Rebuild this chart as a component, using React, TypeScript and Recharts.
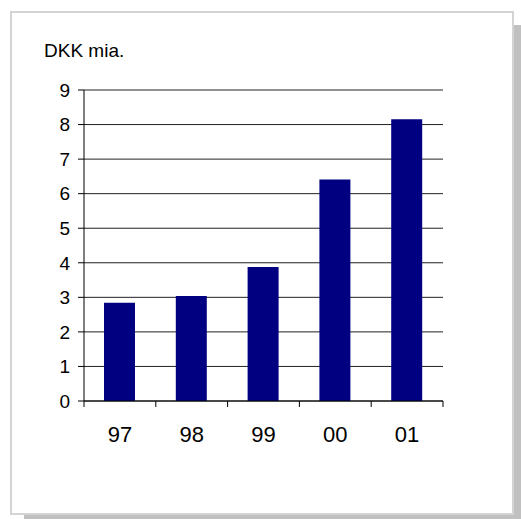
import React from 'react';
import { BarChart, Bar, XAxis, YAxis, CartesianGrid } from 'recharts';

const years = ['97', '98', '99', '00', '01'];
const revenue = [2.84, 3.04, 3.88, 6.41, 8.15];
const yTicks = [0, 1, 2, 3, 4, 5, 6, 7, 8, 9];

const data = years.map((year, i) => ({ year, value: revenue[i] }));

const FONT = '"Liberation Sans", Arial, sans-serif';
const CHART_W = 521;
const CHART_H = 519;
const MARGIN = { top: 90, right: 78, bottom: 78, left: 0 };
const Y_AXIS_W = 84;
const PLOT_W = CHART_W - MARGIN.left - MARGIN.right - Y_AXIS_W;
const TICK_LEN = 6;
const TICK_GAP = 19;

// Excel-style category axis: tick marks sit between the categories
const CategoryTick = (props: any) => {
  const { x, y, payload, index } = props;
  const half = PLOT_W / years.length / 2;
  const axisY = y - TICK_LEN - TICK_GAP;
  return (
    <g>
      <line x1={x - half} x2={x - half} y1={axisY} y2={axisY + TICK_LEN} stroke="#000" />
      {index === years.length - 1 && (
        <line x1={x + half} x2={x + half} y1={axisY} y2={axisY + TICK_LEN} stroke="#000" />
      )}
      <text x={x} y={y} dy="0.71em" textAnchor="middle" fill="#000" fontSize={22} fontFamily={FONT}>
        {payload.value}
      </text>
    </g>
  );
};

export default function App() {
  return (
    <div style={{ position: 'fixed', left: 0, top: 0, width: CHART_W, height: CHART_H, background: '#fff' }}>
      <div
        style={{
          position: 'absolute',
          left: 10,
          top: 11,
          width: 500,
          height: 500,
          border: '2px solid #d4d4d4',
          boxShadow: '14px 14px 0 #c0c0c0',
          background: '#fff',
        }}
      />
      <div
        style={{
          position: 'absolute',
          left: 44,
          top: 41,
          fontFamily: FONT,
          fontSize: 19,
          lineHeight: 1,
          color: '#000',
        }}
      >
        DKK mia.
      </div>
      <div style={{ position: 'absolute', left: 0, top: 0 }}>
        <BarChart width={CHART_W} height={CHART_H} data={data} margin={MARGIN}>
          <CartesianGrid vertical={false} stroke="#222" strokeWidth={1} />
          <XAxis
            dataKey="year"
            height={40}
            axisLine={{ stroke: '#000' }}
            tickLine={false}
            tickSize={TICK_LEN}
            tickMargin={TICK_GAP}
            tick={<CategoryTick />}
            interval={0}
          />
          <YAxis
            width={Y_AXIS_W}
            domain={[0, 9]}
            ticks={yTicks}
            interval={0}
            axisLine={{ stroke: '#000' }}
            tickLine={{ stroke: '#000' }}
            tickSize={TICK_LEN}
            tickMargin={8}
            tick={{ fill: '#000', fontSize: 19, fontFamily: FONT }}
          />
          <Bar dataKey="value" fill="#000080" barSize={31} isAnimationActive={false} />
        </BarChart>
      </div>
    </div>
  );
}
